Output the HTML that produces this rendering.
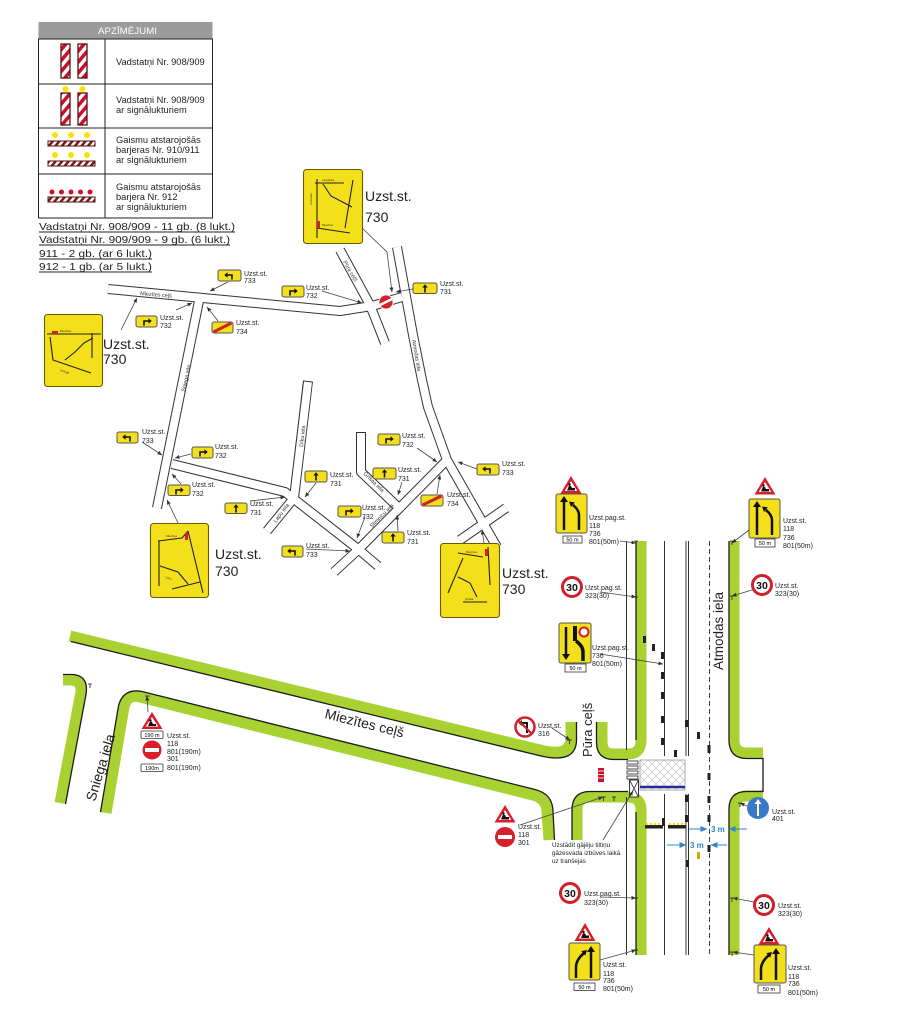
<!DOCTYPE html>
<html><head><meta charset="utf-8"><style>
html,body{margin:0;padding:0;background:#fff;}
svg{display:block;font-family:"Liberation Sans",Arial,sans-serif;}
text{font-family:"Liberation Sans",Arial,sans-serif;}
</style></head><body>
<svg width="910" height="1024" viewBox="0 0 910 1024" xmlns="http://www.w3.org/2000/svg" font-family="Liberation Sans, Arial, sans-serif">
<defs>
 <pattern id="rw" width="7" height="7" patternUnits="userSpaceOnUse" patternTransform="rotate(40)">
  <rect width="7" height="7" fill="#fff"/><rect width="3.5" height="7" fill="#c8102e"/>
 </pattern>
 <pattern id="bw" width="5" height="5" patternUnits="userSpaceOnUse" patternTransform="rotate(40)">
  <rect width="5" height="5" fill="#fff"/><rect width="2.5" height="5" fill="#7a1a1a"/>
 </pattern>
 <pattern id="hatch" width="8" height="8" patternUnits="userSpaceOnUse">
  <path d="M0,0 L8,8 M8,0 L0,8" stroke="#c4c4c4" stroke-width="0.7"/>
 </pattern>
 <marker id="ah" markerWidth="5" markerHeight="5" refX="4.5" refY="2.5" orient="auto" markerUnits="userSpaceOnUse">
  <path d="M0,0.5 L4.5,2.5 L0,4.5Z" fill="#333"/>
 </marker>
 <marker id="bh" markerWidth="7" markerHeight="6" refX="6.5" refY="3" orient="auto" markerUnits="userSpaceOnUse">
  <path d="M0,0 L7,3 L0,6Z" fill="#2f86cf"/>
 </marker>
</defs>

<!-- ============ LEGEND ============ -->
<rect x="38.5" y="22" width="174" height="17" fill="#9b9b9b"/>
<text x="98" y="34" font-size="9" fill="#fff" textLength="59" lengthAdjust="spacingAndGlyphs">APZĪMĒJUMI</text>
<rect x="38.5" y="39" width="174" height="179" fill="none" stroke="#222" stroke-width="1"/>
<line x1="105" y1="39" x2="105" y2="218" stroke="#222"/>
<line x1="38.5" y1="84" x2="212.5" y2="84" stroke="#222"/>
<line x1="38.5" y1="128" x2="212.5" y2="128" stroke="#222"/>
<line x1="38.5" y1="174" x2="212.5" y2="174" stroke="#222"/>
<!-- row1 -->
<rect x="61" y="44" width="9" height="34" fill="url(#rw)" stroke="#5a1010" stroke-width="1.3"/>
<rect x="78" y="44" width="9" height="34" fill="url(#rw)" stroke="#5a1010" stroke-width="1.3"/>
<!-- row2 -->
<circle cx="65.5" cy="89" r="3" fill="#ffe000"/>
<circle cx="82.5" cy="89" r="3" fill="#ffe000"/>
<rect x="61" y="93" width="9" height="32" fill="url(#rw)" stroke="#5a1010" stroke-width="1.3"/>
<rect x="78" y="93" width="9" height="32" fill="url(#rw)" stroke="#5a1010" stroke-width="1.3"/>
<!-- row3 -->
<circle cx="55" cy="135" r="3" fill="#ffe000"/><circle cx="71" cy="135" r="3" fill="#ffe000"/><circle cx="87" cy="135" r="3" fill="#ffe000"/>
<rect x="48" y="141" width="47" height="5" fill="url(#bw)" stroke="#5a1010" stroke-width="1"/>
<circle cx="55" cy="155" r="3" fill="#ffe000"/><circle cx="71" cy="155" r="3" fill="#ffe000"/><circle cx="87" cy="155" r="3" fill="#ffe000"/>
<rect x="48" y="161" width="47" height="5" fill="url(#bw)" stroke="#5a1010" stroke-width="1"/>
<!-- row4 -->
<circle cx="52" cy="192" r="2.5" fill="#d0102a"/><circle cx="61.5" cy="192" r="2.5" fill="#d0102a"/><circle cx="71" cy="192" r="2.5" fill="#d0102a"/><circle cx="80.5" cy="192" r="2.5" fill="#d0102a"/><circle cx="90" cy="192" r="2.5" fill="#d0102a"/>
<rect x="48" y="197" width="47" height="5" fill="url(#bw)" stroke="#5a1010" stroke-width="1"/>
<g font-size="9.3" fill="#222">
<text x="116" y="65">Vadstatņi Nr. 908/909</text>
<text x="116" y="103">Vadstatņi Nr. 908/909</text>
<text x="116" y="113">ar signālukturiem</text>
<text x="116" y="143">Gaismu atstarojošās</text>
<text x="116" y="153">barjeras Nr. 910/911</text>
<text x="116" y="163">ar signālukturiem</text>
<text x="116" y="190">Gaismu atstarojošās</text>
<text x="116" y="200">barjera Nr. 912</text>
<text x="116" y="210">ar signālukturiem</text>
</g>
<g font-size="10.5" fill="#222" font-family="Liberation Sans, Arial, sans-serif">
<text x="39" y="230" textLength="196" lengthAdjust="spacingAndGlyphs">Vadstatņi Nr. 908/909 - 11 gb. (8 lukt.)</text>
<text x="39" y="243" textLength="191" lengthAdjust="spacingAndGlyphs">Vadstatņi Nr. 909/909 - 9 gb. (6 lukt.)</text>
<text x="39" y="257" textLength="113" lengthAdjust="spacingAndGlyphs">911 - 2 gb. (ar 6 lukt.)</text>
<text x="39" y="270" textLength="113" lengthAdjust="spacingAndGlyphs">912 - 1 gb. (ar 5 lukt.)</text>
</g>
<g stroke="#222" stroke-width="0.9">
<line x1="39" y1="232" x2="235" y2="232"/>
<line x1="39" y1="245" x2="230" y2="245"/>
<line x1="39" y1="259" x2="152" y2="259"/>
<line x1="39" y1="272" x2="152" y2="272"/>
</g>

<!-- ============ UPPER MAP ROADS ============ -->
<g fill="none" stroke="#333" stroke-width="10" stroke-linejoin="round">
<path d="M108,289 L340,311 L372,306 L402,297"/>
<path d="M340,250 L370,305 L385,343"/>
<path d="M397,247 L413,335 L422,380 L428,407 L447,460 L483,523 L497,547"/>
<path d="M460,540 L506,508"/>
<path d="M445,462 L359,549 L334,572"/>
<path d="M361,432 L361,472 L399,508"/>
<path d="M200,296 L157,508"/>
<path d="M172,464 L285,492 L358,549 L378,566"/>
<path d="M308,381 L294,498"/>
<path d="M294,498 L267,531"/>
</g>
<g fill="none" stroke="#fff" stroke-width="8" stroke-linejoin="round">
<path d="M108,289 L340,311 L372,306 L402,297"/>
<path d="M340,250 L370,305 L385,343"/>
<path d="M397,247 L413,335 L422,380 L428,407 L447,460 L483,523 L497,547"/>
<path d="M460,540 L506,508"/>
<path d="M445,462 L359,549 L334,572"/>
<path d="M361,433 L361,472 L399,508"/>
<path d="M200,296 L157,508"/>
<path d="M172,464 L285,492 L358,549 L378,566"/>
<path d="M308,382 L294,498"/>
<path d="M294,498 L267,531"/>
</g>
<g font-size="5.5" fill="#333">
<text transform="translate(140,295) rotate(5)">Miezītes ceļš</text>
<text transform="translate(343,262) rotate(60)">Pūra ceļš</text>
<text transform="translate(412,340) rotate(80)">Atmodas iela</text>
<text transform="translate(185,392) rotate(-78)">Sniega iela</text>
<text transform="translate(303,447) rotate(-84)">Dīķu iela</text>
<text transform="translate(276,523) rotate(-53)">Lapu iela</text>
<text transform="translate(363,474) rotate(44)">Grīšaa iela</text>
<text transform="translate(372,528) rotate(-45)">Slimnīcu iela</text>
</g>

<!-- ============ small yellow signs ============ -->
<g>
<g transform="translate(218,270)"><rect x="0" y="0" width="23" height="11" rx="2" fill="#f4e01a" stroke="#555"/><path d="M14,9.5 L14,5 L9,5" fill="none" stroke="#111" stroke-width="1.6"/><path d="M9.5,2.3 L6.3,5 L9.5,7.7Z" fill="#111"/></g>
<g transform="translate(282,286)"><rect x="0" y="0" width="22" height="11" rx="2" fill="#f4e01a" stroke="#555"/><path d="M8,9.5 L8,5 L13,5" fill="none" stroke="#111" stroke-width="1.6"/><path d="M12.5,2.3 L15.7,5 L12.5,7.7Z" fill="#111"/></g>
<g transform="translate(413,283)"><rect x="0" y="0" width="24" height="10.5" rx="2" fill="#f4e01a" stroke="#555"/><path d="M12,9.5 L12,4" stroke="#111" stroke-width="1.6"/><path d="M9.3,4.5 L12,1.3 L14.7,4.5Z" fill="#111"/></g>
<g transform="translate(136,316)"><rect x="0" y="0" width="21" height="11" rx="2" fill="#f4e01a" stroke="#555"/><path d="M8,9.5 L8,5 L13,5" fill="none" stroke="#111" stroke-width="1.6"/><path d="M12.5,2.3 L15.7,5 L12.5,7.7Z" fill="#111"/></g>
<g transform="translate(212,322)"><rect x="0" y="0" width="21" height="11" rx="2" fill="#f4e01a" stroke="#555"/><path d="M1.5,10 L19.5,1" stroke="#d0202a" stroke-width="3"/></g>
<g transform="translate(117,432)"><rect x="0" y="0" width="21" height="11" rx="2" fill="#f4e01a" stroke="#555"/><path d="M13,9.5 L13,5 L8,5" fill="none" stroke="#111" stroke-width="1.6"/><path d="M8.5,2.3 L5.3,5 L8.5,7.7Z" fill="#111"/></g>
<g transform="translate(192,447)"><rect x="0" y="0" width="21" height="11" rx="2" fill="#f4e01a" stroke="#555"/><path d="M8,9.5 L8,5 L13,5" fill="none" stroke="#111" stroke-width="1.6"/><path d="M12.5,2.3 L15.7,5 L12.5,7.7Z" fill="#111"/></g>
<g transform="translate(168,485)"><rect x="0" y="0" width="22" height="10.5" rx="2" fill="#f4e01a" stroke="#555"/><path d="M8,9.5 L8,5 L13,5" fill="none" stroke="#111" stroke-width="1.6"/><path d="M12.5,2.3 L15.7,5 L12.5,7.7Z" fill="#111"/></g>
<g transform="translate(225,503)"><rect x="0" y="0" width="22" height="10.5" rx="2" fill="#f4e01a" stroke="#555"/><path d="M11,9.5 L11,4" stroke="#111" stroke-width="1.6"/><path d="M8.3,4.5 L11,1.3 L13.7,4.5Z" fill="#111"/></g>
<g transform="translate(305,471)"><rect x="0" y="0" width="22" height="11" rx="2" fill="#f4e01a" stroke="#555"/><path d="M11,9.5 L11,4" stroke="#111" stroke-width="1.6"/><path d="M8.3,4.5 L11,1.3 L13.7,4.5Z" fill="#111"/></g>
<g transform="translate(282,546)"><rect x="0" y="0" width="21" height="11" rx="2" fill="#f4e01a" stroke="#555"/><path d="M13,9.5 L13,5 L8,5" fill="none" stroke="#111" stroke-width="1.6"/><path d="M8.5,2.3 L5.3,5 L8.5,7.7Z" fill="#111"/></g>
<g transform="translate(378,434)"><rect x="0" y="0" width="22" height="11" rx="2" fill="#f4e01a" stroke="#555"/><path d="M8,9.5 L8,5 L13,5" fill="none" stroke="#111" stroke-width="1.6"/><path d="M12.5,2.3 L15.7,5 L12.5,7.7Z" fill="#111"/></g>
<g transform="translate(373,468)"><rect x="0" y="0" width="23" height="11" rx="2" fill="#f4e01a" stroke="#555"/><path d="M11.5,9.5 L11.5,4" stroke="#111" stroke-width="1.6"/><path d="M8.8,4.5 L11.5,1.3 L14.2,4.5Z" fill="#111"/></g>
<g transform="translate(477,464)"><rect x="0" y="0" width="22" height="11" rx="2" fill="#f4e01a" stroke="#555"/><path d="M13,9.5 L13,5 L8,5" fill="none" stroke="#111" stroke-width="1.6"/><path d="M8.5,2.3 L5.3,5 L8.5,7.7Z" fill="#111"/></g>
<g transform="translate(421,495)"><rect x="0" y="0" width="22" height="11" rx="2" fill="#f4e01a" stroke="#555"/><path d="M1.5,10 L20.5,1" stroke="#d0202a" stroke-width="3"/></g>
<g transform="translate(338,506)"><rect x="0" y="0" width="23" height="11" rx="2" fill="#f4e01a" stroke="#555"/><path d="M8,9.5 L8,5 L13,5" fill="none" stroke="#111" stroke-width="1.6"/><path d="M12.5,2.3 L15.7,5 L12.5,7.7Z" fill="#111"/></g>
<g transform="translate(382,532)"><rect x="0" y="0" width="22" height="11" rx="2" fill="#f4e01a" stroke="#555"/><path d="M11,9.5 L11,4" stroke="#111" stroke-width="1.6"/><path d="M8.3,4.5 L11,1.3 L13.7,4.5Z" fill="#111"/></g>
</g>
<!-- no entry upper -->
<circle cx="386" cy="302" r="7" fill="#d8202a" stroke="#fff" stroke-width="0.8"/>
<path d="M380,305 L392,299" stroke="#fff" stroke-width="2.5"/>

<g font-size="7" fill="#222">
<text x="244" y="276">Uzst.st.</text><text x="244" y="283">733</text>
<text x="306" y="290">Uzst.st.</text><text x="306" y="298">732</text>
<text x="440" y="286">Uzst.st.</text><text x="440" y="294">731</text>
<text x="160" y="320">Uzst.st.</text><text x="160" y="328">732</text>
<text x="236" y="325">Uzst.st.</text><text x="236" y="334">734</text>
<text x="142" y="434">Uzst.st.</text><text x="142" y="443">733</text>
<text x="215" y="449">Uzst.st.</text><text x="215" y="458">732</text>
<text x="192" y="487">Uzst.st.</text><text x="192" y="496">732</text>
<text x="250" y="506">Uzst.st.</text><text x="250" y="515">731</text>
<text x="330" y="477">Uzst.st.</text><text x="330" y="486">731</text>
<text x="306" y="548">Uzst.st.</text><text x="306" y="557">733</text>
<text x="402" y="438">Uzst.st.</text><text x="402" y="447">732</text>
<text x="398" y="472">Uzst.st.</text><text x="398" y="481">731</text>
<text x="502" y="466">Uzst.st.</text><text x="502" y="475">733</text>
<text x="447" y="497">Uzst.st.</text><text x="447" y="506">734</text>
<text x="362" y="510">Uzst.st.</text><text x="362" y="519">732</text>
<text x="407" y="535">Uzst.st.</text><text x="407" y="544">731</text>
</g>

<!-- 730 boxes -->
<g stroke="#222" stroke-width="1.1" fill="none">
<rect x="303.5" y="169.5" width="59" height="74" rx="3" fill="#f4e01a" stroke="#6a5a00"/>
<path d="M315,183 L344,183 M317,179 L317,238 M323,184 L331,196 L352,207 M353,180 L345,228 M317,228 L350,233"/>
<rect x="44.5" y="314.5" width="58" height="72" rx="3" fill="#f4e01a" stroke="#6a5a00"/>
<path d="M47,334 L101,334 M50,337 L53,360 L91,373 M92,333 L92,358 M65,360 L75,352 L84,343 L93,338"/>
<rect x="150.5" y="523.5" width="58" height="74" rx="3" fill="#f4e01a" stroke="#6a5a00"/>
<path d="M158,541 L182,538 L188,531 M159,541 L159,586 M188,531 L203,593 M160,566 L178,572 L188,584 M172,589 L200,582"/>
<rect x="440.5" y="543.5" width="59" height="74" rx="3" fill="#f4e01a" stroke="#6a5a00"/>
<path d="M458,553 L483,557 M488,547 L490,585 M463,558 L448,593 M458,577 L470,583 L477,597 M463,602 L487,602"/>
</g>
<g fill="#d8202a">
<rect x="317" y="221" width="3" height="7"/><rect x="52" y="331" width="6" height="3"/><rect x="185" y="533" width="3" height="7"/><rect x="485" y="549" width="3" height="7"/>
</g>
<g font-size="3" fill="#333">
<text x="322" y="181">Lāčplēša</text><text transform="translate(312,205) rotate(-90)">Atmodas</text><text x="322" y="226">Miezītes</text>
<text x="60" y="332">Miezītes</text><text x="60" y="371" transform="rotate(18 60 371)">Sniega</text>
<text x="166" y="537">Miezītes</text><text x="165" y="578" transform="rotate(18 165 578)">Lāču</text>
<text x="466" y="553">Miezītes</text><text x="465" y="600">grīšaa</text>
</g>
<g font-size="14" fill="#222">
<text x="365" y="201">Uzst.st.</text><text x="365" y="222">730</text>
<text x="103" y="349">Uzst.st.</text><text x="103" y="364">730</text>
<text x="215" y="559">Uzst.st.</text><text x="215" y="576">730</text>
<text x="502" y="578">Uzst.st.</text><text x="502" y="594">730</text>
</g>

<!-- upper leaders -->
<g stroke="#444" stroke-width="0.8" fill="none" marker-end="url(#ah)">
<line x1="228" y1="282" x2="210" y2="291"/>
<line x1="322" y1="291" x2="362" y2="303"/>
<line x1="413" y1="289" x2="396" y2="292"/>
<polyline points="362,228 387,252 392,292"/>
<line x1="121" y1="330" x2="137" y2="298"/>
<line x1="176" y1="310" x2="192" y2="303"/>
<line x1="218" y1="321" x2="207" y2="307"/>
<line x1="142" y1="442" x2="162" y2="455"/>
<line x1="191" y1="454" x2="175" y2="458"/>
<line x1="181" y1="484" x2="172" y2="474"/>
<line x1="178" y1="523" x2="167" y2="500"/>
<line x1="250" y1="501" x2="285" y2="497"/>
<line x1="316" y1="483" x2="305" y2="497"/>
<line x1="306" y1="549" x2="350" y2="551"/>
<line x1="417" y1="448" x2="437" y2="462"/>
<line x1="402" y1="482" x2="398" y2="495"/>
<line x1="477" y1="469" x2="458" y2="462"/>
<line x1="437" y1="494" x2="440" y2="475"/>
<line x1="365" y1="517" x2="357" y2="538"/>
<line x1="398" y1="531" x2="397" y2="515"/>
<line x1="484" y1="543" x2="482" y2="530"/>
</g>

<!-- ============ LOWER DIAGRAM ============ -->
<g fill="none" stroke="#a9d131" stroke-width="11" stroke-linejoin="round">
<path d="M70,636 L540,750 Q571,758 571,738 L571,722"/>
<path d="M106,813 L124,707 Q127,694 140,697 L533,795 Q547,799 547,812 L549,840"/>
<path d="M63,680 L72,680 Q84,681 80,697 L60,803"/>
<path d="M641,541 L641,740 Q641,754 628,754 L614,754 Q602,754 602,742 L602,722"/>
<path d="M641,955 L641,810 Q641,797 628,797 L590,797 Q577,797 577,810 L577,840"/>
<path d="M734,541 L734,740 Q734,753 747,753 L763,753"/>
<path d="M763,796 L747,796 Q734,796 734,809 L734,955"/>
</g>
<g fill="none" stroke="#1a1a1a" stroke-width="1.3">
<path d="M71,641.5 L539,755.5 Q577.5,765 576.5,738 L576.5,722"/>
<path d="M100.5,812 L118.5,706 Q123,688 142,691.5 L535,789.5 Q553,794 553,812 L554.5,840"/>
<path d="M63,674.5 L73,674.5 Q90,676 85.5,697 L65.5,804"/>
<path d="M636,541 L636,740 M596.5,722 L596.5,742 Q596.5,759.5 614,759.5 L628,759.5"/>
<path d="M636,955 L636,812 M572,840 L572,810 Q572,791.5 590,791.5 L628,791.5"/>
<path d="M729,541 L729,740 Q729,758.5 747,758.5 L763,758.5 L763,791.5 L747,791.5 Q729,791.5 729,809 L729,955"/>
</g>

<!-- road lines -->
<g stroke="#333" stroke-width="1" fill="none">
<path d="M626.5,541 L626.5,750 M626.5,797 L626.5,955"/>
<path d="M664.5,541 L664.5,756 M664.5,794 L664.5,955"/>
<path d="M686,541 L686,756 M686,794 L686,955"/>
<path d="M688.5,541 L688.5,756 M688.5,794 L688.5,955"/>
<path d="M709.5,541 L709.5,955" stroke-dasharray="5,3" stroke-width="0.9"/>
</g>

<!-- crossing -->
<rect x="640" y="760" width="45" height="30" fill="url(#hatch)" stroke="#999" stroke-width="0.8"/>
<line x1="640" y1="787" x2="685" y2="787" stroke="#2a2a9a" stroke-width="2.5"/>
<g fill="#fff" stroke="#222" stroke-width="0.8">
<rect x="627" y="761" width="11" height="3"/><rect x="627" y="766" width="11" height="3"/><rect x="627" y="771" width="11" height="3"/><rect x="627" y="776" width="11" height="3"/>
</g>
<rect x="629.5" y="780" width="9" height="17" fill="#fff" stroke="#222" stroke-width="0.9"/>
<path d="M629.5,780 L638.5,797 M638.5,780 L629.5,797" stroke="#222" stroke-width="0.8"/>
<!-- red small barrier -->
<rect x="598" y="768" width="6" height="14" fill="#c8102e"/>
<g stroke="#fff" stroke-width="0.8"><line x1="598" y1="771" x2="604" y2="771"/><line x1="598" y1="774.5" x2="604" y2="774.5"/><line x1="598" y1="778" x2="604" y2="778"/></g>
<!-- yellow black barrier -->
<rect x="645" y="825" width="18" height="3.5" fill="#222"/><rect x="668" y="825" width="18" height="3.5" fill="#222"/>
<g fill="#f4e01a"><circle cx="647" cy="824" r="1.2"/><circle cx="651" cy="824" r="1.2"/><circle cx="655" cy="824" r="1.2"/><circle cx="659" cy="824" r="1.2"/><circle cx="670" cy="824" r="1.2"/><circle cx="674" cy="824" r="1.2"/><circle cx="678" cy="824" r="1.2"/><circle cx="682" cy="824" r="1.2"/></g>

<!-- road marks -->
<g fill="#222">
<rect x="643" y="636" width="3" height="7"/><rect x="652" y="644" width="3" height="7"/><rect x="661" y="652" width="3" height="7"/>
<rect x="661" y="672" width="3" height="7"/><rect x="661" y="692" width="3" height="7"/><rect x="661" y="716" width="3" height="7"/>
<rect x="661" y="738" width="3" height="7"/><rect x="685" y="720" width="3" height="7"/><rect x="674" y="750" width="3" height="7"/>
<rect x="697" y="732" width="3" height="7"/><rect x="707.5" y="745" width="3" height="8"/><rect x="707.5" y="773" width="3" height="7"/>
<rect x="707.5" y="796" width="3" height="7"/><rect x="707.5" y="815" width="3" height="7"/><rect x="685" y="795" width="3" height="7"/>
<rect x="685" y="815" width="3" height="7"/><rect x="707.5" y="845" width="3" height="7"/><rect x="686" y="860" width="3" height="7"/>
<rect x="662" y="818" width="3" height="8"/>
</g>
<rect x="697" y="852" width="3" height="7" fill="#c9b000"/>

<!-- labels -->
<g font-size="14" fill="#222">
<text transform="translate(723,670) rotate(-90)" font-size="13.5">Atmodas iela</text>
<text transform="translate(592,757) rotate(-90)" font-size="13">Pūra ceļš</text>
<text transform="translate(324,718) rotate(14)">Miezītes ceļš</text>
<text transform="translate(95,802) rotate(-73)">Sniega iela</text>
</g>

<!-- 3 m dims -->
<g stroke="#2f86cf" stroke-width="1" fill="none">
<line x1="689" y1="829" x2="707" y2="829" marker-end="url(#bh)"/>
<line x1="747" y1="829" x2="729" y2="829" marker-end="url(#bh)"/>
<line x1="667" y1="845" x2="686" y2="845" marker-end="url(#bh)"/>
<line x1="727" y1="845" x2="711" y2="845" marker-end="url(#bh)"/>
</g>
<g font-size="8" fill="#2f86cf" font-weight="bold">
<text x="711" y="832">3 m</text><text x="690" y="848">3 m</text>
</g>

<!-- ===== Signs lower ===== -->
<g transform="translate(571,476)"><path d="M0,0 L10.5,17.5 L-10.5,17.5Z" fill="#d81e2a"/><path d="M0,5 L6.3,15 L-6.3,15Z" fill="#fff"/><path d="M-4,14.5 L-2,9.5 L0,10 L1,12 L4,12 L4,14.5Z" fill="#111"/><circle cx="-1.5" cy="8.5" r="1.2" fill="#111"/></g>
<rect x="556" y="494" width="31" height="39" rx="2" fill="#f4e01a" stroke="#555"/>
<path d="M564,530 L564,500" stroke="#111" stroke-width="2.5"/><path d="M560,502 L564,496 L568,502Z" fill="#111"/>
<path d="M579,530 L579,515 Q579,510 573,505" fill="none" stroke="#111" stroke-width="2.5"/><path d="M569,501.5 L574.8,502.4 L571,507Z" fill="#111"/>
<rect x="563" y="536" width="19" height="7" fill="#fff" stroke="#333" stroke-width="0.8"/><text x="572.5" y="541.7" font-size="5.5" text-anchor="middle">50 m</text>
<g transform="translate(765,477)"><path d="M0,0 L10.5,17.5 L-10.5,17.5Z" fill="#d81e2a"/><path d="M0,5 L6.3,15 L-6.3,15Z" fill="#fff"/><path d="M-4,14.5 L-2,9.5 L0,10 L1,12 L4,12 L4,14.5Z" fill="#111"/><circle cx="-1.5" cy="8.5" r="1.2" fill="#111"/></g>
<g transform="translate(193,5)">
<rect x="556" y="494" width="31" height="39" rx="2" fill="#f4e01a" stroke="#555"/>
<path d="M564,530 L564,500" stroke="#111" stroke-width="2.5"/><path d="M560,502 L564,496 L568,502Z" fill="#111"/>
<path d="M579,530 L579,515 Q579,510 573,505" fill="none" stroke="#111" stroke-width="2.5"/><path d="M569,501.5 L574.8,502.4 L571,507Z" fill="#111"/>
</g>
<rect x="755" y="539" width="20" height="8" fill="#fff" stroke="#333" stroke-width="0.8"/><text x="765" y="545" font-size="5.5" text-anchor="middle">50 m</text>
<g font-weight="bold" font-size="10.5" text-anchor="middle" fill="#111">
<circle cx="572" cy="587" r="9.5" fill="#fff" stroke="#d0202a" stroke-width="3"/><text x="572" y="591">30</text>
<circle cx="762" cy="585" r="9.5" fill="#fff" stroke="#d0202a" stroke-width="3"/><text x="762" y="589">30</text>
<circle cx="570" cy="893" r="9.5" fill="#fff" stroke="#d0202a" stroke-width="3"/><text x="570" y="897">30</text>
<circle cx="764" cy="905" r="9.5" fill="#fff" stroke="#d0202a" stroke-width="3"/><text x="764" y="909">30</text>
</g>
<rect x="559" y="623" width="32" height="40" rx="2" fill="#f4e01a" stroke="#555"/>
<path d="M566,627 L566,655" stroke="#111" stroke-width="2.5"/><path d="M562,654 L566,660 L570,654Z" fill="#111"/>
<rect x="573" y="626" width="4" height="15" fill="#111"/>
<path d="M583,661 L583,652 Q583,646 576,641" fill="none" stroke="#111" stroke-width="3.5"/>
<circle cx="584" cy="632" r="4.5" fill="#fff" stroke="#d0202a" stroke-width="2"/>
<rect x="565" y="664" width="21" height="8" fill="#fff" stroke="#333" stroke-width="0.8"/><text x="575.5" y="670" font-size="5.5" text-anchor="middle">50 m</text>
<circle cx="525" cy="727" r="9.5" fill="#fff" stroke="#d0202a" stroke-width="2.5"/>
<path d="M527,733 L527,723 L521,723" fill="none" stroke="#111" stroke-width="2"/><path d="M522,720 L518.5,723 L522,726Z" fill="#111"/>
<path d="M519,721 L531,733" stroke="#d0202a" stroke-width="2.2"/>
<g transform="translate(152,712)"><path d="M0,0 L10.5,17 L-10.5,17Z" fill="#d81e2a"/><path d="M0,5 L6.3,14.5 L-6.3,14.5Z" fill="#fff"/><path d="M-4,14 L-2,9.5 L0,10 L1,12 L4,12 L4,14Z" fill="#111"/><circle cx="-1.5" cy="8.5" r="1.2" fill="#111"/></g>
<rect x="141" y="731" width="22" height="7.5" rx="1" fill="#fff" stroke="#333" stroke-width="0.8"/><text x="152" y="737" font-size="5.5" text-anchor="middle">190 m</text>
<circle cx="152" cy="750" r="9.5" fill="#d8202a"/><rect x="145" y="748" width="14" height="4" fill="#fff"/>
<rect x="141" y="764" width="22" height="7.5" rx="1" fill="#fff" stroke="#333" stroke-width="0.8"/><text x="152" y="770" font-size="5.5" text-anchor="middle">190m</text>
<g transform="translate(505,805)"><path d="M0,0 L10.5,17.5 L-10.5,17.5Z" fill="#d81e2a"/><path d="M0,5 L6.3,15 L-6.3,15Z" fill="#fff"/><path d="M-4,14.5 L-2,9.5 L0,10 L1,12 L4,12 L4,14.5Z" fill="#111"/><circle cx="-1.5" cy="8.5" r="1.2" fill="#111"/></g>
<circle cx="505" cy="837" r="10" fill="#d8202a"/><rect x="498" y="835" width="14" height="4" fill="#fff"/>
<circle cx="758" cy="808" r="11" fill="#3a78c8"/>
<path d="M758,816 L758,803" stroke="#fff" stroke-width="2"/><path d="M754.5,804 L758,799 L761.5,804Z" fill="#fff"/>
<g transform="translate(585,923)"><path d="M0,0 L10.5,18 L-10.5,18Z" fill="#d81e2a"/><path d="M0,5 L6.3,15.5 L-6.3,15.5Z" fill="#fff"/><path d="M-4,15 L-2,10 L0,10.5 L1,12.5 L4,12.5 L4,15Z" fill="#111"/><circle cx="-1.5" cy="9" r="1.2" fill="#111"/></g>
<rect x="569" y="943" width="31" height="37" rx="2" fill="#f4e01a" stroke="#555"/>
<path d="M591,978 L591,950" stroke="#111" stroke-width="2.5"/><path d="M587,952 L591,946 L595,952Z" fill="#111"/>
<path d="M576,978 L576,967 Q576,960 584,953" fill="none" stroke="#111" stroke-width="2.5"/><path d="M587,950 L585.3,955.6 L581.3,951.1Z" fill="#111"/>
<rect x="574" y="983" width="21" height="7.5" fill="#fff" stroke="#333" stroke-width="0.8"/><text x="584.5" y="989" font-size="5.5" text-anchor="middle">50 m</text>
<g transform="translate(769,927)"><path d="M0,0 L10.5,17.5 L-10.5,17.5Z" fill="#d81e2a"/><path d="M0,5 L6.3,15 L-6.3,15Z" fill="#fff"/><path d="M-4,14.5 L-2,9.5 L0,10 L1,12 L4,12 L4,14.5Z" fill="#111"/><circle cx="-1.5" cy="8.5" r="1.2" fill="#111"/></g>
<g transform="translate(185,2)">
<rect x="569" y="943" width="32" height="38" rx="2" fill="#f4e01a" stroke="#555"/>
<path d="M591,978 L591,950" stroke="#111" stroke-width="2.5"/><path d="M587,952 L591,946 L595,952Z" fill="#111"/>
<path d="M576,978 L576,967 Q576,960 584,953" fill="none" stroke="#111" stroke-width="2.5"/><path d="M587,950 L585.3,955.6 L581.3,951.1Z" fill="#111"/>
</g>
<rect x="758" y="985" width="22" height="8" fill="#fff" stroke="#333" stroke-width="0.8"/><text x="769" y="991" font-size="5.5" text-anchor="middle">50 m</text>

<!-- lower texts -->
<g font-size="7" fill="#222">
<text x="589" y="520">Uzst.pag.st.</text><text x="589" y="528">118</text><text x="589" y="536">736</text><text x="589" y="544">801(50m)</text>
<text x="783" y="523">Uzst.st.</text><text x="783" y="531">118</text><text x="783" y="540">736</text><text x="783" y="548">801(50m)</text>
<text x="585" y="590">Uzst.pag.st.</text><text x="585" y="598">323(30)</text>
<text x="775" y="588">Uzst.st.</text><text x="775" y="596">323(30)</text>
<text x="592" y="650">Uzst.pag.st.</text><text x="592" y="658">736</text><text x="592" y="666">801(50m)</text>
<text x="538" y="728">Uzst.st.</text><text x="538" y="736">316</text>
<text x="167" y="738">Uzst.st.</text><text x="167" y="746">118</text><text x="167" y="754">801(190m)</text><text x="167" y="761">301</text><text x="167" y="770">801(190m)</text>
<text x="518" y="829">Uzst.st.</text><text x="518" y="837">118</text><text x="518" y="845">301</text>
<text x="772" y="814">Uzst.st.</text><text x="772" y="821">401</text>
<text x="584" y="896">Uzst.pag.st.</text><text x="584" y="905">323(30)</text>
<text x="603" y="967">Uzst.st.</text><text x="603" y="976">118</text><text x="603" y="983">736</text><text x="603" y="991">801(50m)</text>
<text x="778" y="908">Uzst.st.</text><text x="778" y="916">323(30)</text>
<text x="788" y="970">Uzst.st.</text><text x="788" y="979">118</text><text x="788" y="986">736</text><text x="788" y="995">801(50m)</text>
</g>
<g font-size="6.3" fill="#222">
<text x="552" y="847">Uzstādīt gājēju tiltiņu</text>
<text x="552" y="855">gāzesvada izbūves laikā</text>
<text x="552" y="863">uz tranšejas</text>
</g>

<!-- lower leaders -->
<g stroke="#444" stroke-width="0.8" fill="none" marker-end="url(#ah)">
<line x1="620" y1="541" x2="636" y2="543"/>
<line x1="749" y1="530" x2="732" y2="543"/>
<line x1="600" y1="592" x2="636" y2="597"/>
<line x1="752" y1="590" x2="732" y2="596"/>
<line x1="600" y1="654" x2="663" y2="664"/>
<line x1="552" y1="728" x2="570" y2="740"/>
<line x1="148" y1="712" x2="147" y2="696"/>
<line x1="520" y1="825" x2="603" y2="797"/>
<line x1="603" y1="840" x2="633" y2="791"/>
<line x1="747" y1="806" x2="740" y2="803"/>
<line x1="600" y1="897" x2="636" y2="898"/>
<line x1="600" y1="960" x2="636" y2="950"/>
<line x1="754" y1="902" x2="733" y2="898"/>
<line x1="754" y1="955" x2="733" y2="952"/>
</g>
<g stroke="#222" stroke-width="0.8" fill="none">
<path d="M634,541 L638,541 M636,541 L636,545"/>
<path d="M730,541 L734,541 M732,541 L732,545"/>
<path d="M634,597 L638,597 M636,597 L636,601"/>
<path d="M730,596 L734,596 M732,596 L732,600"/>
<path d="M634,898 L638,898 M636,898 L636,902"/>
<path d="M634,950 L638,950 M636,950 L636,954"/>
<path d="M730,898 L734,898 M732,898 L732,902"/>
<path d="M730,952 L734,952 M732,952 L732,956"/>
<path d="M567,740 L572,740 M569.5,740 L569.5,744"/>
<path d="M601,797 L606,797 M603.5,797 L603.5,801"/>
<path d="M612,797 L616,797 M614,797 L614,801"/>
<path d="M145,696 L150,696 M147,696 L147,700"/>
<path d="M88,684 L92,684 M90,684 L90,688"/>
<path d="M738,803 L742,803 M740,803 L740,807"/>
</g>
</svg>
</body></html>
